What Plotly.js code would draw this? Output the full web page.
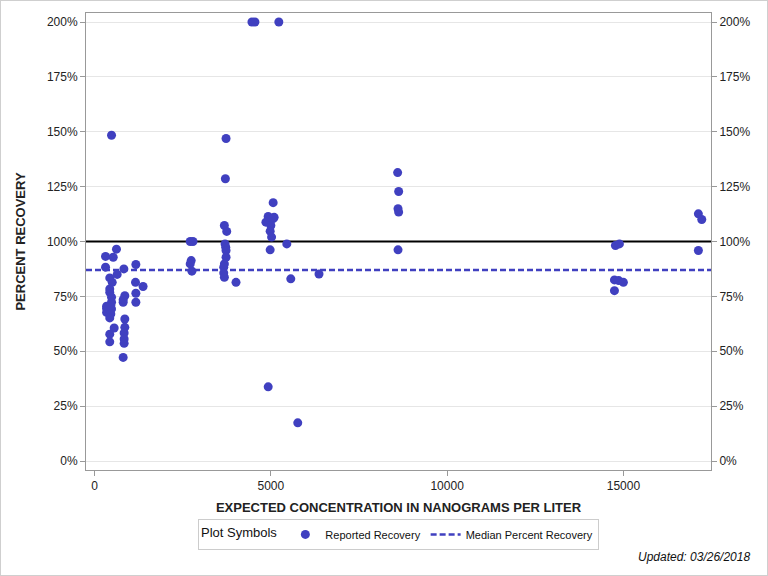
<!DOCTYPE html>
<html>
<head>
<meta charset="utf-8">
<script src="https://cdn.plot.ly/plotly-3.0.1.min.js"></script>
<style>
  body { margin: 0; }
  #frame { width: 768px; height: 576px; box-sizing: border-box; border: 1px solid #cfcfcf; }
  #chart { width: 766px; height: 574px; }
</style>
</head>
<body>
<div id="frame"><div id="chart"></div></div>
<script>
// Expected concentration (ng/L) and percent recovery
const concentration = [
    480, 620, 310, 528, 310, 830, 1170, 640, 430, 500, 1160, 1375, 430, 430, 1170, 857,
    480, 480, 810, 1170, 340, 480, 340, 460, 430, 857, 555, 857, 430, 838, 838, 838, 430,
    810, 810, 460, 340,
    2712, 2790, 2740, 2712, 2760,
    3729, 3710, 3681, 3748, 3700, 3720, 3729, 3729, 3681, 3663, 3663, 3681, 4011,
    4463, 4548, 5226, 5065, 4924, 5065, 5093, 4859, 5000, 4980, 5020, 4980, 5452, 5565,
    6365, 4924, 5763,
    8596, 8625, 8607, 8625, 8607,
    14774, 14887, 14746, 14867, 15000, 14746,
    17127, 17223, 17127
];
const recovery = [
    148.4, 96.5, 93.2, 92.8, 88.3, 87.5, 89.5, 85, 83.4, 81.4, 81.4, 79.5, 78.4, 76.9, 76.4, 75.3,
    74.6, 72.3, 72.3, 72.3, 69.5, 69.3, 67.7, 67, 65.2, 64.7, 60.6, 60.9, 57.8, 58.3, 55.6, 53.6, 54.3,
    47.2, 73.5, 71, 70.5,
    100, 100, 91.3, 89.8, 86.5,
    146.9, 128.6, 107.3, 104.6, 98.9, 97.4, 95.9, 92.8, 89.8, 88.3, 85.7, 83.7, 81.4,
    200, 200, 200, 117.7, 111.4, 110.4, 111, 108.8, 107.3, 104.7, 102, 96.2, 98.9, 83,
    85.2, 33.8, 17.4,
    131.4, 122.8, 114.9, 113.4, 96.2,
    98.2, 98.9, 82.5, 82.2, 81.4, 77.6,
    112.6, 110, 95.9
];
const medianRecovery = 87;
const targetRecovery = 100;
const xRange = [-244, 17485];
const yRange = [-4.1, 204.1];
const yTicks = [0, 25, 50, 75, 100, 125, 150, 175, 200];
const yTickLabels = yTicks.map(v => v + '%');
const xTicks = [0, 5000, 10000, 15000];

const pointColor = 'rgb(64,64,192)';
const tickFont = {family: 'Liberation Sans, Arial, sans-serif', size: 12, color: '#222'};

const yAxisBase = {
    range: yRange,
    tickvals: yTicks,
    ticktext: yTickLabels,
    ticks: 'outside',
    ticklen: 5,
    tickcolor: '#999',
    showline: true,
    linecolor: '#999',
    zeroline: false,
    tickfont: tickFont
};

// 100% reference line, spans the whole x axis
const targetTrace = {
    x: xRange,
    y: [targetRecovery, targetRecovery],
    type: 'scatter',
    mode: 'lines',
    line: {color: 'black', width: 2},
    showlegend: false,
    hoverinfo: 'skip'
};

const medianTrace = {
    x: xRange,
    y: [medianRecovery, medianRecovery],
    type: 'scatter',
    mode: 'lines',
    name: 'Median Percent Recovery',
    line: {color: pointColor, width: 2.5, dash: '6px,3px'},
    legendrank: 2,
    hoverinfo: 'skip'
};

const pointsTrace = {
    x: concentration,
    y: recovery,
    type: 'scatter',
    mode: 'markers',
    name: 'Reported Recovery',
    marker: {color: pointColor, size: 9},
    legendrank: 1,
    cliponaxis: false
};

// empty trace so the right-hand axis gets drawn
const rightAxisTrace = {x: [], y: [], type: 'scatter', yaxis: 'y2', showlegend: false, hoverinfo: 'skip'};

const layout = {
    width: 766,
    height: 574,
    margin: {l: 85, r: 56, t: 12, b: 105},
    paper_bgcolor: 'white',
    plot_bgcolor: 'white',
    font: {family: 'Liberation Sans, Arial, sans-serif', color: '#222'},
    xaxis: {
        range: xRange,
        tickvals: xTicks,
        tickformat: 'd',
        ticks: 'outside',
        ticklen: 5,
        tickcolor: '#999',
        showline: true,
        mirror: true,
        linecolor: '#999',
        showgrid: false,
        zeroline: false,
        tickfont: tickFont,
        title: {text: 'EXPECTED CONCENTRATION IN NANOGRAMS PER LITER', font: {size: 13, weight: 'bold'}, standoff: 10}
    },
    yaxis: Object.assign({}, yAxisBase, {
        gridcolor: '#e6e6e6',
        title: {text: 'PERCENT RECOVERY', font: {size: 13, weight: 'bold'}, standoff: 18}
    }),
    yaxis2: Object.assign({}, yAxisBase, {
        overlaying: 'y',
        side: 'right',
        showgrid: false
    }),
    showlegend: true,
    legend: {
        orientation: 'h',
        x: 0.5, xanchor: 'center',
        y: -0.107, yanchor: 'top',
        bordercolor: '#cccccc',
        borderwidth: 1,
        font: {size: 11, color: '#111'},
        title: {text: 'Plot Symbols', font: {size: 13, color: '#111'}},
        itemwidth: 30
    },
    annotations: [{
        text: 'Updated: 03/26/2018',
        xref: 'paper', yref: 'paper',
        x: 1.066, xanchor: 'right',
        y: -0.19, yanchor: 'middle',
        showarrow: false,
        font: {size: 12, style: 'italic', color: '#111'}
    }]
};

Plotly.newPlot('chart', [targetTrace, medianTrace, pointsTrace, rightAxisTrace], layout, {displayModeBar: false});
</script>
</body>
</html>
